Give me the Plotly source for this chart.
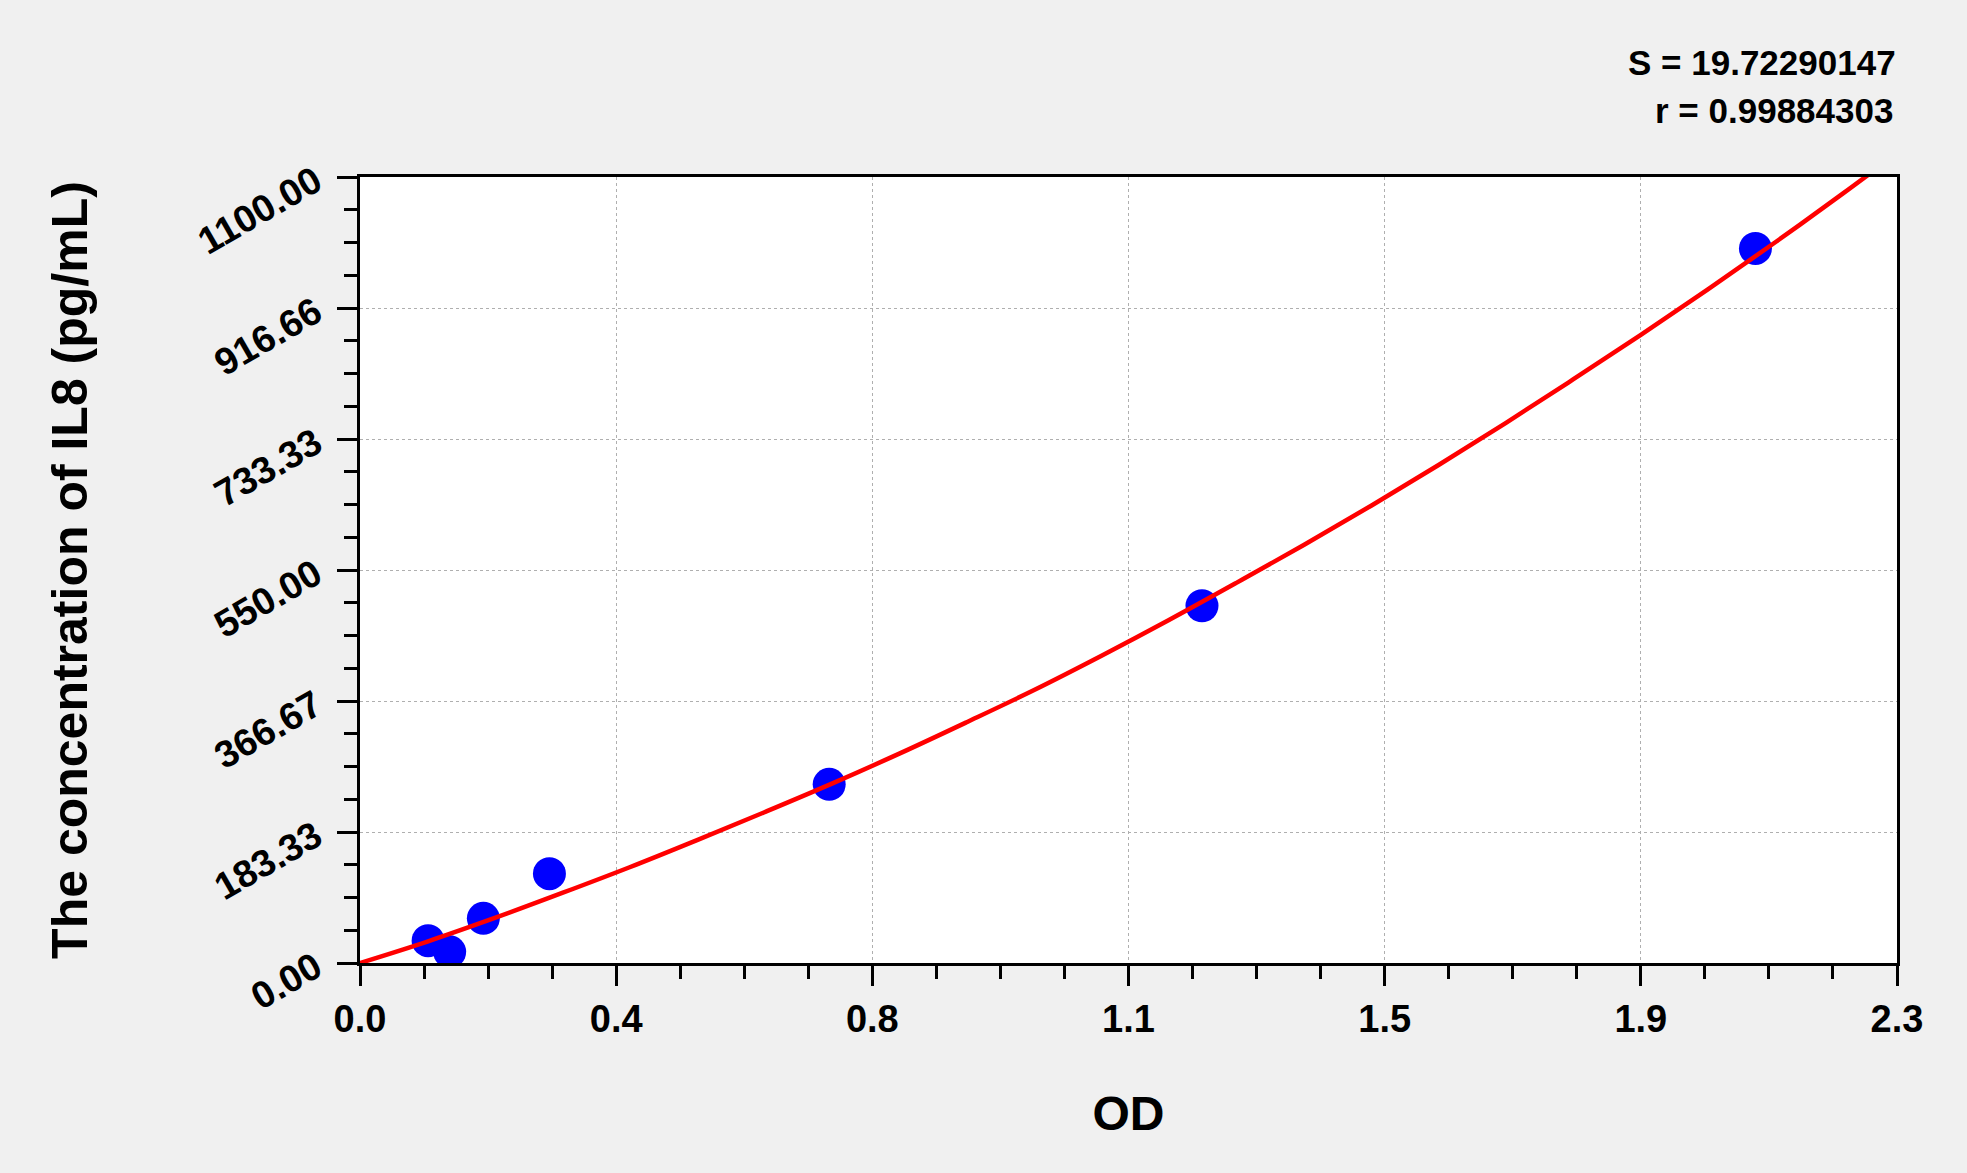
import plotly.graph_objects as go

# pontos padrão (OD x concentração)
od_pontos = [0.101, 0.133, 0.183, 0.281, 0.696, 1.249, 2.070]
conc_pontos = [31.25, 15.625, 62.5, 125, 250, 500, 1000]

# curva ajustada
od_curva = [0.0, 0.1, 0.2, 0.3, 0.4, 0.5, 0.6, 0.7, 0.8, 0.9, 1.0, 1.1,
            1.2, 1.3, 1.4, 1.5, 1.6, 1.7, 1.8, 1.9, 2.0, 2.1, 2.2, 2.25]
conc_curva = [0, 30, 63, 98, 134, 172, 211, 251, 293, 337, 382, 430,
              480, 532, 585, 640, 697, 756, 817, 879, 943, 1009, 1077, 1112]

# eixos
x_ticks = [0.0, 0.38, 0.76, 1.14, 1.52, 1.90, 2.28]
x_labels = ['0.0', '0.4', '0.8', '1.1', '1.5', '1.9', '2.3']
y_ticks = [0, 183.333, 366.667, 550, 733.333, 916.667, 1100]
y_labels = ['0.00', '183.33', '366.67', '550.00', '733.33', '916.66', '1100.00']

texto_s = 'S = 19.72290147'
texto_r = 'r = 0.99884303'

fonte = 'Arial, Liberation Sans, sans-serif'

fig = go.Figure()

fig.add_trace(go.Scatter(
    x=od_pontos, y=conc_pontos, mode='markers', name='',
    marker=dict(size=33, color='rgb(0,0,255)', line=dict(width=0))
))

fig.add_trace(go.Scatter(
    x=od_curva, y=conc_curva, mode='lines', name='',
    line=dict(color='rgb(255,0,0)', width=4.5, shape='spline')
))

eixo_comum = dict(
    showline=True, linecolor='black', linewidth=3, mirror=True,
    ticks='outside', ticklen=20, tickwidth=3, tickcolor='black',
    showgrid=True, gridcolor='rgb(175,175,175)', gridwidth=1, griddash='dot',
    zeroline=False, tickmode='array',
    tickfont=dict(family=fonte, size=38, color='black', weight='bold'),
)

fig.update_xaxes(
    **eixo_comum,
    range=[0, 2.28], tickvals=x_ticks, ticktext=x_labels,
    minor=dict(dtick=0.095, tick0=0, ticks='outside', ticklen=13,
               tickwidth=3, tickcolor='black', showgrid=False),
    title=dict(text='OD', standoff=58,
               font=dict(family=fonte, size=48, color='black', weight='bold')),
)

fig.update_yaxes(
    **eixo_comum,
    range=[0, 1100], tickvals=y_ticks, ticktext=y_labels, tickangle=-30,
    ticklabelstandoff=14,
    minor=dict(dtick=1100 / 24, tick0=0, ticks='outside', ticklen=13,
               tickwidth=3, tickcolor='black', showgrid=False),
    title=dict(text='The concentration of IL8 (pg/mL)', standoff=88,
               font=dict(family=fonte, size=50, color='black', weight='bold')),
)

fig.add_annotation(text=texto_s, xref='paper', yref='paper', x=1.0007, y=1.1452,
                   xanchor='right', yanchor='middle', showarrow=False,
                   font=dict(family=fonte, size=35, color='black', weight='bold'))
fig.add_annotation(text=texto_r, xref='paper', yref='paper', x=0.999, y=1.0841,
                   xanchor='right', yanchor='middle', showarrow=False,
                   font=dict(family=fonte, size=35, color='black', weight='bold'))

fig.update_layout(
    width=1967, height=1173, showlegend=False,
    paper_bgcolor='rgb(240,240,240)', plot_bgcolor='white',
    margin=dict(l=360, r=70, t=177, b=210),
)

fig.write_html('out.html', config={'displayModeBar': False},
               post_script="document.body.style.margin='0';")
